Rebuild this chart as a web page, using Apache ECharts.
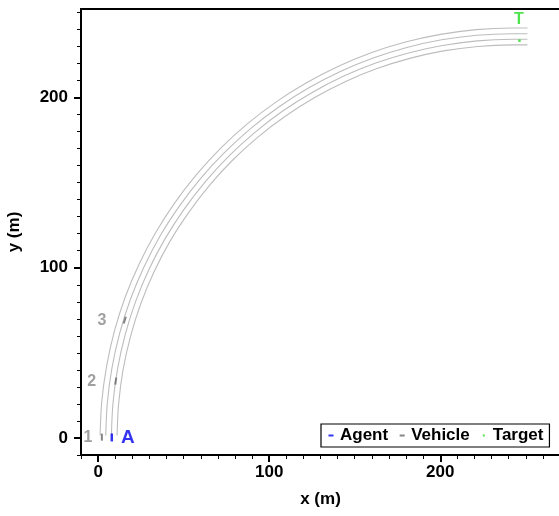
<!DOCTYPE html>
<html><head><meta charset="utf-8">
<script src="https://cdn.jsdelivr.net/npm/echarts@6/dist/echarts.min.js"></script>
<style>html,body{margin:0;padding:0;background:#fff}#c{width:559px;height:516px}</style>
</head><body><div id="c"></div>
<script>
// Road boundary lines (m)
const roadLine1 = [[1.2,1.5],[2.1,21.0],[4.9,41.8],[9.4,62.3],[15.7,82.4],[23.8,101.8],[33.5,120.4],[44.8,138.1],[57.6,154.8],[71.7,170.3],[87.2,184.5],[103.9,197.3],[121.6,208.5],[140.2,218.2],[159.6,226.3],[179.7,232.6],[200.2,237.1],[221.0,239.9],[242,240.8],[251,240.8]];
const roadLine2 = [[4.5,1.5],[5.4,20.7],[8.1,41.2],[12.6,61.5],[18.8,81.2],[26.8,100.4],[36.3,118.8],[47.5,136.2],[60.1,152.7],[74.1,167.9],[89.3,181.9],[105.8,194.6],[123.2,205.7],[141.6,215.3],[160.8,223.2],[180.5,229.4],[200.8,233.9],[221.3,236.6],[242,237.5],[251,237.5]];
const roadLine3 = [[7.8,1.5],[8.7,20.4],[11.4,40.7],[15.8,60.6],[21.9,80.1],[29.7,99.0],[39.2,117.1],[50.2,134.3],[62.6,150.5],[76.4,165.6],[91.5,179.4],[107.7,191.9],[124.9,202.8],[143.0,212.3],[161.9,220.1],[181.4,226.2],[201.3,230.6],[221.6,233.3],[242,234.2],[251,234.2]];
const roadLine4 = [[11.1,1.5],[12.0,20.1],[14.6,40.1],[19.0,59.8],[25.0,79.0],[32.7,97.6],[42.0,115.5],[52.9,132.4],[65.1,148.4],[78.7,163.3],[93.6,176.9],[109.6,189.1],[126.6,200.0],[144.4,209.3],[163.0,217.0],[182.2,223.0],[201.9,227.4],[221.9,230.0],[242,230.9],[251,230.9]];

// Vehicles
const vehicleX = [2.2, 10.3, 15.6];
const vehicleY = [0.5, 33.4, 69.2];
const vehicleHeading = [0, 8, 17]; // deg, clockwise from north
const vehicleLabels = ['1', '2', '3'];
const vehicleLabelX = [-6.0, -3.7, 2.2];
const vehicleLabelY = [0.0, 33.4, 69.2];

// Agent
const agentPos = [8.0, 0.3];
const agentLabel = 'A';
const agentLabelPos = [17.4, 0.0];

// Target
const targetPos = [246.3, 233.4];
const targetLabel = 'T';
const targetLabelPos = [246.0, 245.7];

// Axes
const xMin = -10, xMax = 270, yMin = -10, yMax = 252;
const xMajorTicks = [0, 100, 200];
const yMajorTicks = [0, 100, 200];
const minorStep = 10;

const xMinor = [], yMinor = [];
for (let v = xMin; v <= xMax; v += minorStep) xMinor.push(v);
for (let v = yMin; v <= yMax; v += minorStep) yMinor.push(v);

const FONT = 'Arial, "Liberation Sans", sans-serif';
const ROAD = '#bdbdbd', VEH = '#666666', BLUE = '#0000ee', GREEN = '#22dd22';

const roadSeries = [roadLine1, roadLine2, roadLine3, roadLine4].map((d, i) => ({
  type: 'line', name: 'road' + (i + 1), data: d, smooth: 0.35, showSymbol: false, symbol: 'none',
  lineStyle: { color: ROAD, width: 1.1 }, silent: true, z: 1
}));

const chart = echarts.init(document.getElementById('c'), null, { renderer: 'canvas' });
chart.setOption({
  animation: false,
  backgroundColor: '#fff',
  grid: { left: 81, right: -1, top: 9, bottom: 61, show: true, borderColor: '#000', borderWidth: 2, outerBoundsMode: 'none', containLabel: false },
  legend: {
    left: 321, top: 424, orient: 'horizontal',
    padding: [3, 6, 3, 6],
    itemGap: 10, itemWidth: 8, itemHeight: 8,
    borderColor: '#000', borderWidth: 1.2, backgroundColor: '#fff',
    textStyle: { fontFamily: FONT, fontWeight: 'bold', fontSize: 17, color: '#000' },
    data: [
      { name: 'Agent', icon: 'path://M0,0M8,8M1.5,3h5v2h-5z' },
      { name: 'Vehicle', icon: 'path://M0,0M8,8M1.5,3h5v2h-5z' },
      { name: 'Target', icon: 'path://M0,0M8,8M3,3h2v2H3z' }
    ]
  },
  xAxis: [
    { type: 'value', min: xMin, max: xMax, position: 'bottom',
      axisLine: { show: true, onZero: false, lineStyle: { color: '#000', width: 2 } },
      axisTick: { show: true, customValues: xMinor, length: 4, lineStyle: { color: '#000', width: 1 } },
      axisLabel: { show: false }, splitLine: { show: false } },
    { type: 'value', min: xMin, max: xMax, position: 'bottom',
      axisLine: { show: false, onZero: false },
      axisTick: { show: true, customValues: xMajorTicks, length: 7, lineStyle: { color: '#000', width: 2 } },
      axisLabel: { show: true, customValues: xMajorTicks, margin: 9, fontFamily: FONT, fontWeight: 'bold', fontSize: 17, color: '#000' },
      splitLine: { show: false },
      name: 'x (m)', nameLocation: 'middle', nameGap: 36,
      nameTextStyle: { fontFamily: FONT, fontWeight: 'bold', fontSize: 17, color: '#000' } }
  ],
  yAxis: [
    { type: 'value', min: yMin, max: yMax, position: 'left',
      axisLine: { show: true, onZero: false, lineStyle: { color: '#000', width: 2 } },
      axisTick: { show: true, customValues: yMinor, length: 4, lineStyle: { color: '#000', width: 1 } },
      axisLabel: { show: false }, splitLine: { show: false } },
    { type: 'value', min: yMin, max: yMax, position: 'left',
      axisLine: { show: false, onZero: false },
      axisTick: { show: true, customValues: yMajorTicks, length: 7, lineStyle: { color: '#000', width: 2 } },
      axisLabel: { show: true, customValues: yMajorTicks, margin: 13, fontFamily: FONT, fontWeight: 'bold', fontSize: 17, color: '#000' },
      splitLine: { show: false },
      name: 'y (m)', nameLocation: 'middle', nameGap: 58, nameRotate: 90,
      nameTextStyle: { fontFamily: FONT, fontWeight: 'bold', fontSize: 17, color: '#000' } }
  ],
  series: [
    ...roadSeries,
    { type: 'scatter', name: 'Vehicle', z: 3,
      data: vehicleX.map((x, i) => ({ value: [x, vehicleY[i]], symbolRotate: -vehicleHeading[i] })),
      symbol: 'rect', symbolSize: [2, 7], itemStyle: { color: VEH } },
    { type: 'scatter', name: 'vehLabels', z: 4, silent: true,
      data: vehicleLabelX.map((x, i) => ({ value: [x, vehicleLabelY[i]], label: { formatter: vehicleLabels[i] } })),
      symbolSize: 0, itemStyle: { color: 'transparent' },
      label: { show: true, position: 'inside', fontFamily: FONT, fontWeight: 'bold', fontSize: 16, color: '#888888' } },
    { type: 'scatter', name: 'Agent', z: 3,
      data: [agentPos], symbol: 'rect', symbolSize: [2.5, 8], itemStyle: { color: BLUE } },
    { type: 'scatter', name: 'agentLabel', z: 4, silent: true,
      data: [{ value: agentLabelPos, label: { formatter: agentLabel } }], symbolSize: 0,
      itemStyle: { color: 'transparent' },
      label: { show: true, position: 'inside', fontFamily: FONT, fontWeight: 'bold', fontSize: 19, color: BLUE } },
    { type: 'scatter', name: 'Target', z: 3,
      data: [targetPos], symbol: 'rect', symbolSize: 2.5, itemStyle: { color: GREEN } },
    { type: 'scatter', name: 'targetLabel', z: 4, silent: true,
      data: [{ value: targetLabelPos, label: { formatter: targetLabel } }], symbolSize: 0,
      itemStyle: { color: 'transparent' },
      label: { show: true, position: 'inside', fontFamily: FONT, fontWeight: 'bold', fontSize: 16, color: GREEN } }
  ]
});
</script></body></html>
